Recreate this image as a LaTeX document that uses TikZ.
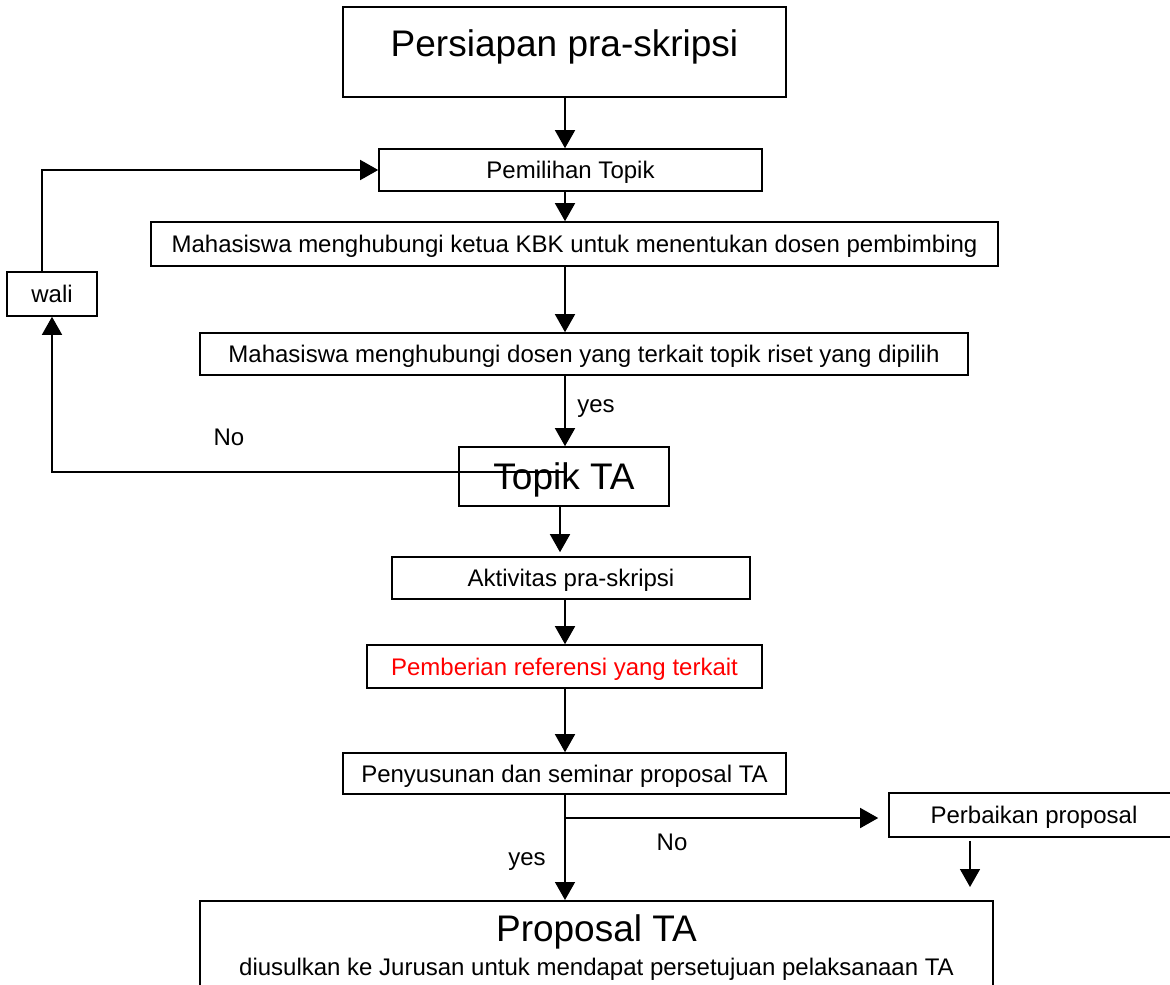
\documentclass[tikz,border=0pt]{standalone}
\usepackage{fontspec}
\setmainfont{Liberation Sans}
\usetikzlibrary{arrows.meta}
\tikzset{
	kotak/.style={draw,line width=0.8pt,inner sep=0pt,text height=8.6pt,text depth=0pt,font=\fontsize{12}{14}\selectfont},
	besar/.style={kotak,text height=13.3pt,font=\fontsize{18.5}{22}\selectfont},
	panah/.style={line width=0.75pt,-{Triangle[length=9pt,width=10pt]}},
	ket/.style={font=\fontsize{12}{14}\selectfont}
}

\begin{document}
\begin{tikzpicture}[x=0.5pt,y=-0.5pt]
	    \useasboundingbox (0,0) rectangle (1170,984);
	    \clip (0,0) rectangle (1170,984);
	    \node[besar,minimum width=221.5pt,minimum height=45pt,text depth=9.1pt] (prep) at (564.5,52) {Persiapan pra-skripsi};
	    \node[kotak,minimum width=191.5pt,minimum height=21pt] (topik) at (570.5,170) {Pemilihan Topik};
	    \node[kotak,minimum width=423.5pt,minimum height=22pt] (kbk) at (574.5,244) {Mahasiswa menghubungi ketua KBK untuk menentukan dosen pembimbing};
	    \node[kotak,minimum width=384pt,minimum height=21pt] (dosen) at (584,354) {Mahasiswa menghubungi dosen yang terkait topik riset yang dipilih};
	    \node[kotak,minimum width=45pt,minimum height=22pt] (wali) at (52,294) {wali};
	    \node[besar,minimum width=105pt,minimum height=29.5pt] (topikta) at (564,476.5) {Topik TA};
	    \node[kotak,minimum width=179pt,minimum height=21pt] (aktivitas) at (571,578) {Aktivitas pra-skripsi};
	    \node[kotak,minimum width=197.5pt,minimum height=21.5pt,text=red] (referensi) at (564.5,666.5) {Pemberian referensi yang terkait};
	    \node[kotak,minimum width=221.5pt,minimum height=20.5pt] (seminar) at (564.5,773.5) {Penyusunan dan seminar proposal TA};
	    \node[kotak,minimum width=145pt,minimum height=22pt] (perbaikan) at (1034,815) {Perbaikan proposal};
	    \node[draw,line width=0.8pt,anchor=north,minimum width=396.5pt,inner xsep=0pt,inner ysep=7pt,text depth=16pt,align=center,font=\fontsize{12}{14}\selectfont] (proposal) at (596.5,900) {{\fontsize{18.5}{22}\selectfont Proposal TA}\\[3pt]diusulkan ke Jurusan untuk mendapat persetujuan pelaksanaan TA};
	    % alur utama
	    \coordinate (jalur) at (565,0);
	    \draw[panah] (prep.south -| jalur) -- (topik.north -| jalur);
	    \draw[panah] (topik.south -| jalur) -- (kbk.north -| jalur);
	    \draw[panah] (kbk.south -| jalur) -- (dosen.north -| jalur);
	    \draw[panah] (dosen.south -| jalur) -- (topikta.north -| jalur);
	    \draw[panah,shorten >=2pt] ([xshift=-2pt]topikta.south) -- ([xshift=-2pt]topikta.south |- aktivitas.north);
	    \draw[panah] (aktivitas.south -| jalur) -- (referensi.north -| jalur);
	    \draw[panah] (referensi.south -| jalur) -- (seminar.north -| jalur);
	    \draw[panah] (seminar.south -| jalur) -- (proposal.north -| jalur);
	    % kembali lewat wali
	    \draw[panah] ([yshift=2.25pt]topikta.center) -| (wali.south);
	    \draw[panah] ([xshift=-5pt]wali.north) |- (topik.west);
	    % cabang perbaikan
	    \coordinate (cabang) at (565,818);
	    \draw[panah,shorten >=5pt] (cabang) -- (cabang -| perbaikan.west);
	    \coordinate (ujung) at (970,887);
	    \draw[panah] ([yshift=-1.5pt]perbaikan.south -| ujung) -- (ujung);
	    \node[ket] (ya1) at (596,409) {yes};
	    \node[ket] (tidak1) at (229,437) {No};
	    \node[ket] (tidak2) at (672,842) {No};
	    \node[ket] (ya2) at (527,862) {yes};
	\end{tikzpicture}
\end{document}
